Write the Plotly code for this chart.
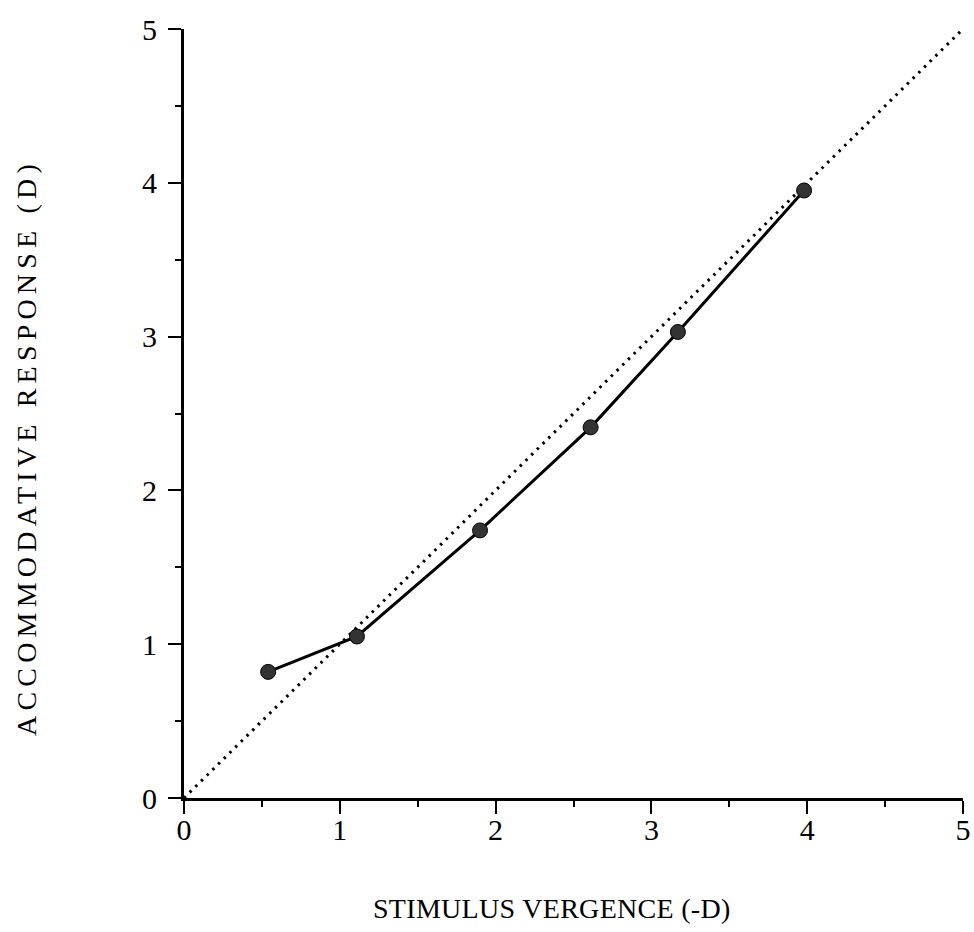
import plotly.graph_objects as go

stimulus = [0.54, 1.11, 1.90, 2.61, 3.17, 3.98]
response = [0.82, 1.05, 1.74, 2.41, 3.03, 3.95]
ideal_x = [0, 5]
ideal_y = [0, 5]
tick_vals = [0, 1, 2, 3, 4, 5]
tick_text = ["0", "1", "2", "3", "4", "5"]
x_title = "STIMULUS VERGENCE (-D)"
y_title = "ACCOMMODATIVE RESPONSE (D)"

FONT = "Liberation Serif"

fig = go.Figure()
fig.add_trace(go.Scatter(
    x=ideal_x, y=ideal_y, mode="lines",
    line=dict(color="black", width=3, dash="2.5px,5.5px"),
    hoverinfo="skip", showlegend=False, cliponaxis=False,
))
fig.add_trace(go.Scatter(
    x=stimulus, y=response, mode="lines+markers",
    line=dict(color="black", width=3),
    marker=dict(size=15, color="#333333", line=dict(color="black", width=1)),
    showlegend=False, cliponaxis=False,
))

axis_common = dict(
    range=[0, 5], tickvals=tick_vals, ticktext=tick_text,
    showgrid=False, zeroline=False, showline=True, linecolor="black", linewidth=3,
    ticks="outside", ticklen=13, tickwidth=2, tickcolor="black",
    tickfont=dict(family=FONT, size=30, color="black"),
    ticklabeloverflow="allow",
    minor=dict(dtick=0.5, ticks="outside", ticklen=6, tickwidth=2, tickcolor="black", showgrid=False),
)
fig.update_layout(
    width=974, height=932, autosize=False,
    margin=dict(l=184, r=3, t=29, b=134),
    paper_bgcolor="white", plot_bgcolor="white",
    xaxis=dict(**axis_common, ticklabelstandoff=-10),
    yaxis=dict(**axis_common, ticklabelstandoff=5),
    annotations=[
        dict(text='<span style="letter-spacing:0.3px">' + x_title + '</span>',
             xref="paper", yref="paper", x=0.472, y=-0.144,
             xanchor="center", yanchor="middle", showarrow=False,
             font=dict(family=FONT, size=28, color="black")),
        dict(text='<span style="letter-spacing:5.2px">' + y_title + '</span>',
             xref="paper", yref="paper", x=-0.202, y=0.456, textangle=-90,
             xanchor="center", yanchor="middle", showarrow=False,
             font=dict(family=FONT, size=28, color="black")),
    ],
)

fig.write_html(
    "out.html",
    config={"responsive": False, "displayModeBar": False},
    post_script="document.body.style.margin='0';document.body.style.overflow='hidden';",
)
